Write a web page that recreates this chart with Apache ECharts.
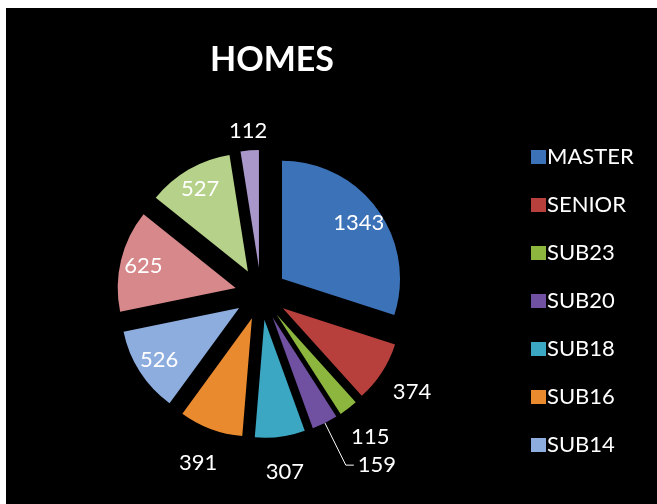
<!DOCTYPE html>
<html>
<head>
<meta charset="utf-8">
<script src="https://cdn.jsdelivr.net/npm/echarts@6/dist/echarts.min.js"></script>
<style>
  html, body { margin: 0; padding: 0; background: #ffffff; }
  #chart { position: absolute; left: 6px; top: 8px; width: 651px; height: 496px; }
</style>
</head>
<body>
<div id="chart"></div>
<script>
// slices, clockwise from 12 o'clock
const categories = ['MASTER', 'SENIOR', 'SUB23', 'SUB20', 'SUB18', 'SUB16', 'SUB14', 'SUB12', 'SUB10', 'SUB8'];
const values = [1343, 374, 115, 159, 307, 391, 526, 625, 527, 112];
const colors = ['#3c72b8', '#b8403c', '#8db63e', '#7050a0', '#3ba7c2', '#ea8a2f', '#8eaddf', '#d6888a', '#b6d28a', '#a997c9'];
// only the first seven show up in the legend
const legendNames = categories.slice(0, 7);
// where each value label sits
const insideLabels = ['MASTER', 'SUB14', 'SUB12', 'SUB10'];
const outsideLabels = ['SENIOR', 'SUB23', 'SUB18', 'SUB16'];
const topLabels = ['SUB8'];
const leaderLabel = 'SUB20';

const font = 'Lato, "Open Sans", sans-serif';
const offset = 26;
const center = [255, 286];

const chart = echarts.init(document.getElementById('chart'));

const labelText = { color: '#ffffff', fontSize: 22, fontFamily: font, formatter: '{c}' };

// the visible slices
const pieData = categories.map((name, i) => ({
    name,
    value: values[i],
    selected: true,
    itemStyle: { color: colors[i] },
    label: { show: name === leaderLabel },
    labelLine: { show: name === leaderLabel }
}));

// invisible copies, only used to place the value labels
const labelSeries = (radius, names) => ({
    type: 'pie',
    center,
    radius,
    startAngle: 90,
    silent: true,
    selectedMode: 'multiple',
    selectedOffset: offset,
    avoidLabelOverlap: false,
    label: Object.assign({ position: 'inside' }, labelText),
    labelLine: { show: false },
    emphasis: { disabled: true },
    data: categories.map((name, i) => ({
        name,
        value: values[i],
        selected: true,
        itemStyle: { color: 'rgba(0,0,0,0)' },
        label: { show: names.includes(name) }
    }))
});

chart.setOption({
    backgroundColor: '#000000',
    animation: false,
    title: {
        text: 'HOMES',
        left: 261,
        top: 30,
        textAlign: 'center',
        textStyle: { color: '#ffffff', fontSize: 34, fontWeight: 'bold', fontFamily: font }
    },
    legend: {
        orient: 'vertical',
        left: 520,
        top: 133,
        data: legendNames,
        icon: 'rect',
        itemWidth: 15,
        itemHeight: 14,
        itemGap: 26,
        textStyle: { color: '#ffffff', fontSize: 22, fontFamily: font, padding: [0, 0, 0, -4] },
        selectedMode: false
    },
    series: [
        {
            type: 'pie',
            center,
            radius: 118,
            startAngle: 90,
            selectedMode: 'multiple',
            selectedOffset: offset,
            avoidLabelOverlap: false,
            label: Object.assign({ position: 'outside', distanceToLabelLine: 4 }, labelText),
            labelLine: { length: 47, length2: 8, lineStyle: { color: '#ffffff', width: 1 } },
            emphasis: { disabled: true },
            data: pieData
        },
        labelSeries(184, insideLabels),
        labelSeries(302, outsideLabels),
        labelSeries(270, topLabels)
    ]
});
</script>
</body>
</html>
